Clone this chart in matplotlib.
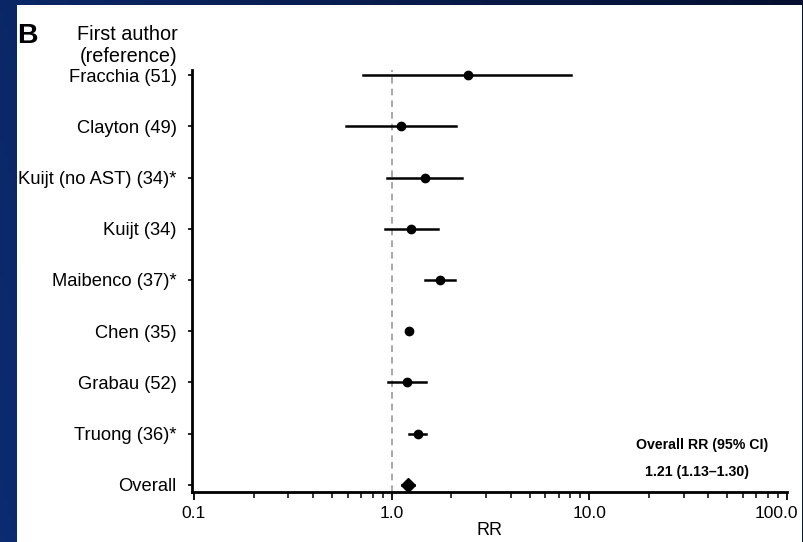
import numpy as np
import matplotlib
matplotlib.use("Agg")
import matplotlib.pyplot as plt
import matplotlib.transforms as mtransforms
from matplotlib.patches import Rectangle
from matplotlib.ticker import LogLocator, NullFormatter, FixedLocator, FixedFormatter

plt.rcParams['font.family'] = ['Liberation Sans', 'DejaVu Sans']

# Study labels, top to bottom
studies = ["Fracchia (51)", "Clayton (49)", "Kuijt (no AST) (34)*", "Kuijt (34)",
           "Maibenco (37)*", "Chen (35)", "Grabau (52)", "Truong (36)*", "Overall"]
rr = [2.42, 1.11, 1.47, 1.25, 1.75, 1.23, 1.19, 1.36, 1.21]
ci_low = [0.72, 0.59, 0.95, 0.92, 1.48, 1.20, 0.96, 1.23, 1.13]
ci_high = [8.07, 2.12, 2.27, 1.71, 2.08, 1.26, 1.49, 1.50, 1.30]

x_ticks = [0.1, 1.0, 10.0, 100.0]
x_tick_labels = ["0.1", "1.0", "10.0", "100.0"]

W, H = 804, 542
fig = plt.figure(figsize=(W / 100, H / 100), dpi=100)

# Slide background: dark blue gradient
bg = fig.add_axes([0, 0, 1, 1])
gx = np.linspace(0, 1, 200)
gy = np.linspace(0, 1, 100)
GX, GY = np.meshgrid(gx, gy)
c_left = np.array([0x0c, 0x2b, 0x70]) / 255
c_right = np.array([0x05, 0x10, 0x30]) / 255
t = (GX * 0.85 + (1 - GY) * 0.15)[..., None]
img = c_left * (1 - t) + c_right * t
bg.imshow(img, aspect='auto', extent=[0, 1, 0, 1], origin='upper')
bg.set_xlim(0, 1)
bg.set_ylim(0, 1)
bg.axis('off')

# White panel
fig.patches.append(Rectangle((17 / W, 0), (802 - 17) / W, (H - 5) / H,
                             transform=fig.transFigure, facecolor='white',
                             edgecolor='none', zorder=1))

def px(x, y):
    return x / W, 1 - y / H

left, right, top, bottom = 192, 787, 70, 492
ax = fig.add_axes([left / W, 1 - bottom / H, (right - left) / W, (bottom - top) / H])
ax.set_zorder(2)
ax.patch.set_alpha(0)

n = len(studies)
ypos = list(range(n - 1, -1, -1))

ax.axvline(1.0, color='#9a9a9a', lw=1.2, ls=(0, (4, 3)), zorder=1)

for i in range(n - 1):
    ax.plot([ci_low[i], ci_high[i]], [ypos[i], ypos[i]], color='black', lw=1.8, zorder=2)
    ax.plot(rr[i], ypos[i], 'o', color='black', ms=6, zorder=3)
# overall diamond
ax.plot([ci_low[-1], ci_high[-1]], [ypos[-1], ypos[-1]], color='black', lw=1.8, zorder=2)
ax.plot(rr[-1], ypos[-1], 'D', color='black', ms=7.5, zorder=3)

ax.set_xscale('log')
ax.set_xlim(10 ** (-1 - 2 / 197.7), 100)
ax.set_ylim(-0.14, 8.1)

ax.xaxis.set_major_locator(FixedLocator(x_ticks))
ax.xaxis.set_major_formatter(FixedFormatter(x_tick_labels))
ax.xaxis.set_minor_locator(LogLocator(base=10, subs=np.arange(2, 10)))
ax.xaxis.set_minor_formatter(NullFormatter())
ax.tick_params(axis='x', which='major', length=6, width=1.3, direction='out', pad=4, labelsize=12.5)
ax.tick_params(axis='x', which='minor', length=4, width=1.1, direction='out')

ax.set_yticks(ypos)
ax.set_yticklabels(studies, fontsize=13.2)
ax.tick_params(axis='y', length=3, width=1.2, direction='out', pad=8)

for s in ['top', 'right']:
    ax.spines[s].set_visible(False)
for s in ['left', 'bottom']:
    ax.spines[s].set_linewidth(2)

ax.set_xlabel("RR", fontsize=13, labelpad=1)

# last tick label sits a bit left of its tick in the original
fig.canvas.draw()
last = ax.get_xticklabels()[-1]
last.set_transform(last.get_transform() + mtransforms.ScaledTranslation(-11 / 100, 0, fig.dpi_scale_trans))

ax.text(37, 0.78, "Overall RR (95% CI)", fontsize=10.2, fontweight='bold', ha='center', va='center')
ax.text(35, 0.25, "1.21 (1.13\u20131.30)", fontsize=10.2, fontweight='bold', ha='center', va='center')

x, y = px(17, 36)
fig.text(x, y, "B", fontsize=20.5, fontweight='bold', ha='left', va='center', zorder=3)
x, y = px(178, 35)
fig.text(x, y, "First author", fontsize=14.3, ha='right', va='center', zorder=3)
x, y = px(178, 57)
fig.text(x, y, "(reference)", fontsize=14.3, ha='right', va='center', zorder=3)

fig.savefig("out.png", dpi=100)
